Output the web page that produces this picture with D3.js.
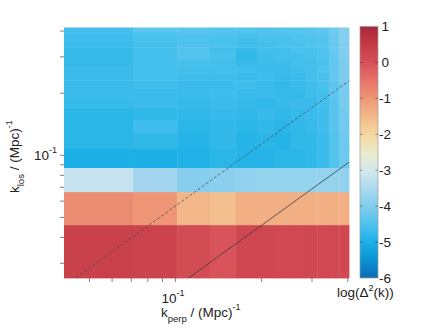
<!DOCTYPE html>
<html>
<head>
<meta charset="utf-8">
<script src="https://cdn.jsdelivr.net/npm/d3@7"></script>
<style>
  html, body { margin: 0; padding: 0; background: #fff; }
  svg { display: block; font-family: "Liberation Sans", Arial, sans-serif; }
</style>
</head>
<body>
<svg id="chart"></svg>
<script>
// bin edges of the 2D power spectrum (Mpc^-1)
const kPerpEdges = [0.0409, 0.0713, 0.1017, 0.1321, 0.1625, 0.1929, 0.2233,
  0.2537, 0.2841, 0.3145, 0.3449, 0.3753, 0.4057];
const kLosEdges = [0.0253, 0.0458, 0.0662, 0.0867, 0.1071, 0.1276, 0.1480,
  0.1685, 0.1889, 0.2094, 0.2298, 0.2503, 0.2707, 0.2912, 0.3116, 0.3321,
  0.3525, 0.3730, 0.3934, 0.4139];

// log(Delta^2(k)), one row per k_los bin, bottom row first
const logPower = [
  [0.35, 0.3, 0.1, -0.05, 0.2, 0.2, 0.18, 0.18, 0.2, 0.18, 0.18, 0.18],
  [-0.85, -1.0, -1.45, -1.6, -1.35, -1.35, -1.35, -1.35, -1.35, -1.35, -1.35, -1.35],
  [-3.2, -3.6, -3.95, -3.9, -3.8, -3.78, -3.78, -3.78, -3.78, -3.78, -3.78, -3.8],
  [-5.0, -5.0, -4.95, -4.85, -4.9, -4.9, -4.85, -4.85, -4.8, -4.7, -4.45, -4.2],
  [-4.85, -4.8, -4.9, -4.8, -4.9, -4.85, -4.9, -4.8, -4.8, -4.7, -4.45, -4.2],
  [-4.85, -4.65, -4.85, -4.8, -4.85, -4.8, -4.85, -4.8, -4.75, -4.65, -4.4, -4.15],
  [-4.85, -4.8, -4.8, -4.75, -4.8, -4.75, -4.8, -4.75, -4.7, -4.65, -4.4, -4.15],
  [-4.75, -4.7, -4.75, -4.7, -4.75, -4.8, -4.75, -4.7, -4.7, -4.6, -4.4, -4.1],
  [-4.7, -4.7, -4.7, -4.65, -4.7, -4.7, -4.75, -4.75, -4.65, -4.6, -4.35, -4.1],
  [-4.7, -4.65, -4.7, -4.7, -4.65, -4.7, -4.8, -4.7, -4.65, -4.55, -4.35, -4.1],
  [-4.7, -4.6, -4.65, -4.65, -4.7, -4.65, -4.75, -4.7, -4.6, -4.55, -4.3, -4.05],
  [-4.7, -4.6, -4.6, -4.6, -4.65, -4.7, -4.7, -4.65, -4.6, -4.5, -4.3, -4.05],
  [-4.75, -4.6, -4.55, -4.6, -4.75, -4.65, -4.65, -4.6, -4.6, -4.55, -4.3, -4.05],
  [-4.75, -4.6, -4.45, -4.55, -4.8, -4.65, -4.6, -4.6, -4.55, -4.5, -4.3, -4.0],
  [-4.75, -4.6, -4.45, -4.6, -4.75, -4.6, -4.6, -4.55, -4.55, -4.5, -4.25, -4.0],
  [-4.7, -4.6, -4.5, -4.55, -4.65, -4.6, -4.55, -4.55, -4.5, -4.45, -4.25, -4.0],
  [-4.65, -4.55, -4.5, -4.55, -4.6, -4.55, -4.55, -4.5, -4.5, -4.45, -4.2, -3.95],
  [-4.65, -4.55, -4.5, -4.5, -4.55, -4.5, -4.5, -4.5, -4.45, -4.4, -4.2, -3.95],
  [-4.6, -4.35, -4.4, -4.45, -4.45, -4.5, -4.45, -4.45, -4.4, -4.35, -4.15, -3.95]
];

// wedge lines k_los = slope * k_perp
const wedgeDashed = 0.563;
const wedgeSolid = 0.227;

const xTickVals = [0.05, 0.06, 0.07, 0.08, 0.09, 0.1, 0.2, 0.3, 0.4];
const yTickVals = [0.03, 0.04, 0.05, 0.06, 0.07, 0.08, 0.09, 0.1, 0.2, 0.3, 0.4];
const cbarTicks = [1, 0, -1, -2, -3, -4, -5, -6];

// colormap stops
const cmapValues = [1, 0.5, 0, -0.5, -1, -1.5, -2, -2.5, -3, -3.5, -4, -4.5, -5, -5.5, -6];
const cmapColors = ["#a8283c", "#c43a46", "#d65058", "#e67369", "#ee9676", "#f3b98a",
  "#f3d7a0", "#ebebc8", "#d5e8ee", "#acdaef", "#82cdee", "#4ec3ee", "#1cb0e6",
  "#0a91d2", "#0a6cb2"];

const width = 436;
const height = 329;
const plot = { left: 64, right: 349, top: 27.5, bottom: 278 };

const svg = d3.select('#chart')
  .attr('width', width)
  .attr('height', height);

const x = d3.scaleLog()
  .domain([kPerpEdges[0], kPerpEdges[kPerpEdges.length - 1]])
  .range([plot.left, plot.right]);

const y = d3.scaleLog()
  .domain([kLosEdges[0], kLosEdges[kLosEdges.length - 1]])
  .range([plot.bottom, plot.top]);

const color = d3.scaleLinear()
  .domain(cmapValues)
  .range(cmapColors)
  .clamp(true);

// heatmap cells
const cells = [];
logPower.forEach((row, r) => {
  row.forEach((v, c) => cells.push({ r, c, v }));
});

svg.append('g')
  .selectAll('rect')
  .data(cells)
  .enter()
  .append('rect')
  .attr('x', d => x(kPerpEdges[d.c]))
  .attr('y', d => y(kLosEdges[d.r + 1]))
  .attr('width', d => x(kPerpEdges[d.c + 1]) - x(kPerpEdges[d.c]) + 0.4)
  .attr('height', d => y(kLosEdges[d.r]) - y(kLosEdges[d.r + 1]) + 0.4)
  .attr('fill', d => color(d.v));

// wedge lines, clipped to the plot
svg.append('clipPath')
  .attr('id', 'plot-clip')
  .append('rect')
  .attr('x', plot.left)
  .attr('y', plot.top)
  .attr('width', plot.right - plot.left)
  .attr('height', plot.bottom - plot.top);

const line = d3.line()
  .x(d => x(d[0]))
  .y(d => y(d[1]));

const kEnds = x.domain();
const lines = svg.append('g').attr('clip-path', 'url(#plot-clip)');
lines.append('path')
  .attr('d', line(kEnds.map(k => [k, wedgeDashed * k])))
  .attr('fill', 'none')
  .attr('stroke', '#46525c')
  .attr('stroke-width', 0.8)
  .attr('stroke-dasharray', '3,2');
lines.append('path')
  .attr('d', line(kEnds.map(k => [k, wedgeSolid * k])))
  .attr('fill', 'none')
  .attr('stroke', '#3a3a44')
  .attr('stroke-width', 0.8);

// axes (ticks only)
const xAxis = svg.append('g')
  .attr('transform', `translate(0, ${plot.bottom})`)
  .call(d3.axisBottom(x).tickValues(xTickVals).tickSize(4).tickFormat(''));
const yAxis = svg.append('g')
  .attr('transform', `translate(${plot.left}, 0)`)
  .call(d3.axisLeft(y).tickValues(yTickVals).tickSize(4).tickFormat(''));
[xAxis, yAxis].forEach(g => {
  g.select('.domain').remove();
  g.selectAll('.tick line').attr('stroke', '#808080');
});

// tick labels with superscripts
const xLab = svg.append('text')
  .attr('x', x(0.1) - 2)
  .attr('y', 303)
  .attr('text-anchor', 'middle')
  .attr('font-size', 13.5)
  .attr('fill', '#222');
xLab.append('tspan').text('10');
xLab.append('tspan').attr('dy', -7).attr('font-size', 9).text('-1');

const yLab = svg.append('text')
  .attr('x', 57)
  .attr('y', y(0.1) + 5)
  .attr('text-anchor', 'end')
  .attr('font-size', 13.5)
  .attr('fill', '#222');
yLab.append('tspan').text('10');
yLab.append('tspan').attr('dy', -7).attr('font-size', 9).text('-1');

// axis titles
const xTitle = svg.append('text')
  .attr('x', 161)
  .attr('y', 317)
  .attr('font-size', 13.5)
  .attr('fill', '#222');
xTitle.append('tspan').text('k');
xTitle.append('tspan').attr('dy', 5).attr('font-size', 9.5).text('perp');
xTitle.append('tspan').attr('dy', -5).text(' / (Mpc)');
xTitle.append('tspan').attr('dy', -7).attr('font-size', 9).text('-1');

const yTitle = svg.append('text')
  .attr('transform', 'translate(19, 193) rotate(-90)')
  .attr('font-size', 13.5)
  .attr('fill', '#222');
yTitle.append('tspan').text('k');
yTitle.append('tspan').attr('dy', 5).attr('font-size', 9.5).text('los');
yTitle.append('tspan').attr('dy', -5).text(' / (Mpc)');
yTitle.append('tspan').attr('dy', -7).attr('font-size', 9).text('-1');

// colorbar
const cbar = { x: 360, w: 18, top: 26.5, bottom: 278 };
const cScale = d3.scaleLinear()
  .domain([d3.min(cmapValues), d3.max(cmapValues)])
  .range([cbar.bottom, cbar.top]);

const grad = svg.append('defs').append('linearGradient')
  .attr('id', 'cbar-grad')
  .attr('x1', 0).attr('y1', 1).attr('x2', 0).attr('y2', 0);
grad.selectAll('stop')
  .data(cmapValues.slice().reverse())
  .enter()
  .append('stop')
  .attr('offset', v => (cbar.bottom - cScale(v)) / (cbar.bottom - cbar.top))
  .attr('stop-color', v => color(v));

svg.append('rect')
  .attr('x', cbar.x)
  .attr('y', cbar.top)
  .attr('width', cbar.w)
  .attr('height', cbar.bottom - cbar.top)
  .attr('fill', 'url(#cbar-grad)')
  .attr('stroke', '#9a9a9a')
  .attr('stroke-width', 0.7);

const cTicks = svg.append('g');
cTicks.selectAll('line.l')
  .data(cbarTicks.slice(1, -1))
  .enter()
  .append('line')
  .attr('x1', cbar.x).attr('x2', cbar.x + 2.5)
  .attr('y1', v => cScale(v)).attr('y2', v => cScale(v))
  .attr('stroke', 'rgba(0,0,0,0.35)');
cTicks.selectAll('line.r')
  .data(cbarTicks.slice(1, -1))
  .enter()
  .append('line')
  .attr('x1', cbar.x + cbar.w - 2.5).attr('x2', cbar.x + cbar.w)
  .attr('y1', v => cScale(v)).attr('y2', v => cScale(v))
  .attr('stroke', 'rgba(0,0,0,0.35)');

svg.append('g')
  .selectAll('text')
  .data(cbarTicks)
  .enter()
  .append('text')
  .attr('x', v => v < 0 ? 379 : 381.5)
  .attr('y', v => cScale(v) + 4.5)
  .attr('font-size', 13.5)
  .attr('fill', '#222')
  .text(v => v < 0 ? '-' + Math.abs(v) : v);

const cTitle = svg.append('text')
  .attr('x', 337)
  .attr('y', 297)
  .attr('font-size', 13.5)
  .attr('fill', '#222');
cTitle.append('tspan').text('log(\u0394');
cTitle.append('tspan').attr('dy', -6).attr('font-size', 9).text('2');
cTitle.append('tspan').attr('dy', 6).text('(k))');
</script>
</body>
</html>
